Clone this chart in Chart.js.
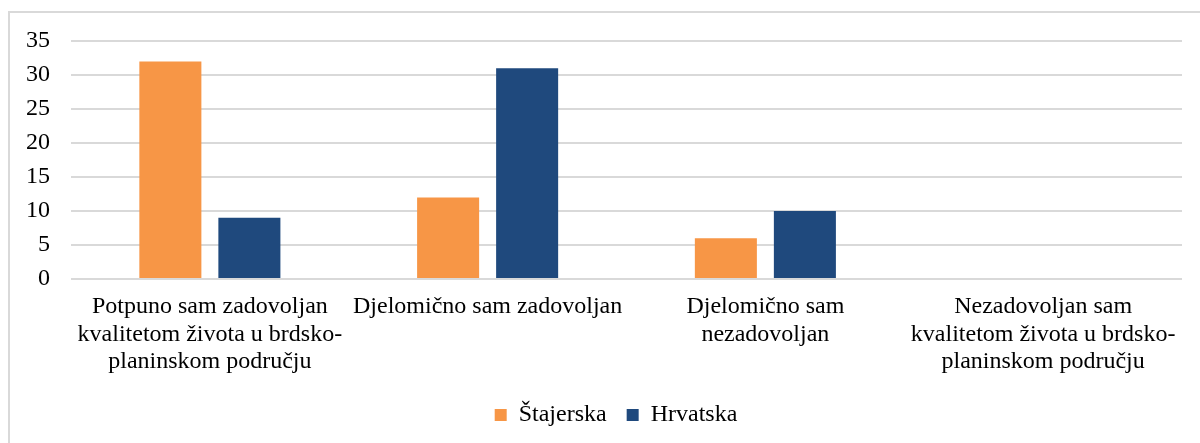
<!DOCTYPE html>
<html lang="hr">
<head>
    <meta charset="UTF-8">
    <title>Zadovoljstvo kvalitetom života</title>
    <script src="https://cdn.jsdelivr.net/npm/chart.js"></script>
    <style>
      body { margin: 0; background: #fff; }
      .wrap { position: relative; width: 1200px; height: 443px; overflow: hidden; }
      .frame { position: absolute; left: 8px; top: 11px; width: 1210px; height: 460px; border: 2px solid #d9d9d9; box-sizing: border-box; }
      #chart { position: absolute; left: 0; top: 0; }
    </style>
</head>
<body>
  <div class="wrap">
    <div class="frame"></div>
    <canvas id="chart" width="1200" height="443"></canvas>
  </div>

  <script>
    // categories (already split into lines the way they wrap under the axis)
    const categories = [
      ['Potpuno sam zadovoljan', 'kvalitetom života u brdsko-', 'planinskom području'],
      ['Djelomično sam zadovoljan'],
      ['Djelomično sam', 'nezadovoljan'],
      ['Nezadovoljan sam', 'kvalitetom života u brdsko-', 'planinskom području']
    ];
    const stajerska = [32, 12, 6, 0];
    const hrvatska = [9, 31, 10, 0];
    const yTicks = [0, 5, 10, 15, 20, 25, 30, 35];

    const serif = "'Liberation Serif', 'Times New Roman', serif";

    // nudge the legend a bit to the right so it sits under the plot's centre
    const legendShift = {
      id: 'legendShift',
      afterLayout(chart) {
        chart.legend.left += 20;
        chart.legend.right += 20;
      }
    };

    const ctx = document.getElementById('chart').getContext('2d');
    new Chart(ctx, {
      type: 'bar',
      data: {
        labels: categories,
        datasets: [{
          label: 'Štajerska',
          data: stajerska,
          backgroundColor: '#F79646'
        }, {
          label: 'Hrvatska',
          data: hrvatska,
          backgroundColor: '#1F497D'
        }]
      },
      options: {
        responsive: false,
        animation: false,
        datasets: {
          bar: { barPercentage: 0.785, categoryPercentage: 0.569 }
        },
        layout: { padding: { left: 10, right: 18, top: 41, bottom: 6 } },
        scales: {
          x: {
            afterFit: (scale) => { scale.height = 104; },
            grid: { display: false, drawTicks: false },
            border: { display: false },
            ticks: {
              color: '#000',
              padding: 14,
              maxRotation: 0,
              autoSkip: false,
              font: { family: serif, size: 24, lineHeight: 1.15 }
            }
          },
          y: {
            min: 0,
            max: 35,
            afterBuildTicks: (scale) => { scale.ticks = yTicks.map(v => ({ value: v })); },
            afterFit: (scale) => { scale.width = 61; },
            grid: { color: '#d9d9d9', lineWidth: 2, drawTicks: false },
            border: { display: false },
            ticks: {
              color: '#000',
              padding: 21,
              font: { family: serif, size: 24 }
            }
          }
        },
        plugins: {
          tooltip: { enabled: false },
          legend: {
            position: 'bottom',
            labels: {
              color: '#000',
              boxWidth: 12,
              boxHeight: 12,
              padding: 20,
              font: { family: serif, size: 24 }
            }
          }
        }
      },
      plugins: [legendShift]
    });
  </script>
</body>
</html>
